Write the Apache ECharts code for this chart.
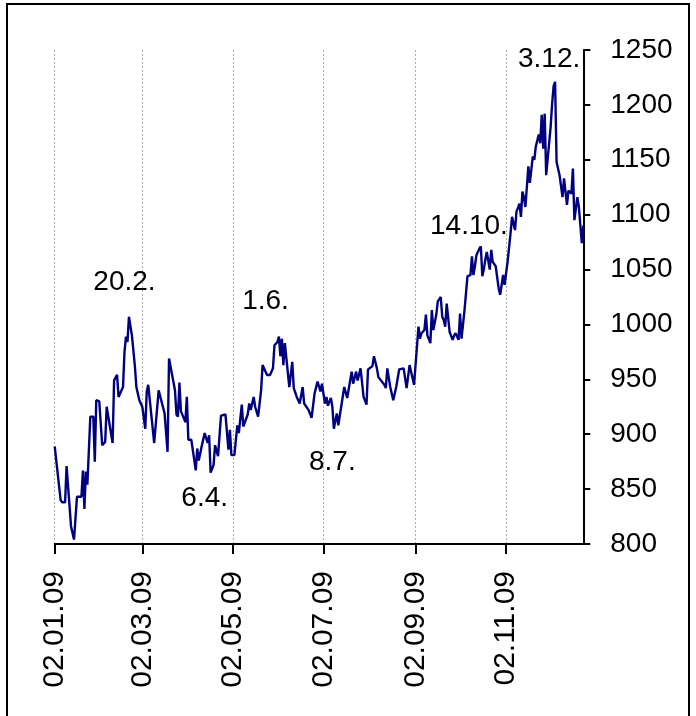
<!DOCTYPE html>
<html><head><meta charset="utf-8">
<script src="https://cdn.jsdelivr.net/npm/echarts@6/dist/echarts.min.js"></script>
<style>html,body{margin:0;padding:0;background:#fff}#c{width:696px;height:716px}</style>
</head><body><div id="c"></div>
<script>
// days since 02.01.2009 of each plotted price
const dayOffset = [0,4,5,7,8,11,12,13,15,18,19,20,21,22,24,26,27,28,30,32,34,35,39,40,42,43,46,47,48,49,50,52,54,55,57,59,61,62,63,67,70,74,76,77,81,82,83,84,85,88,89,90,92,95,96,97,99,101,103,104,105,107,108,110,112,115,117,118,119,121,123,124,126,127,130,131,132,134,135,137,139,140,143,145,147,148,150,151,152,153,154,155,158,160,161,163,165,167,168,171,173,175,177,179,180,182,183,184,186,187,188,190,191,195,197,200,201,203,204,206,208,210,211,214,215,217,218,222,223,224,226,228,230,232,235,237,239,242,245,246,247,249,250,251,253,254,255,257,258,260,261,262,263,264,266,268,269,270,272,273,274,276,278,280,281,282,283,284,286,287,288,289,290,291,293,294,295,297,299,300,302,303,305,307,308,310,311,312,313,314,315,316,317,319,320,322,323,324,326,327,328,329,330,331,334,335,336,337,338,340,342,343,345,346,348,349,350,352,353,355,356];
const price = [889,840,838,838,871,816,816,804,843,843,867,832,866,854,916,916,875,931,930,890,893,925,892,949,954,934,943,975,989,984,1007,990,962,943,931,925,905,939,945,892,940,919,884,969,940,918,916,947,921,911,934,895,895,867,887,876,889,901,892,899,865,872,890,880,917,918,886,904,881,881,908,901,927,907,918,928,922,934,925,916,940,963,954,954,960,981,984,989,971,987,963,983,943,966,942,934,928,943,928,922,915,937,948,939,946,928,934,926,933,925,905,919,908,943,933,957,946,957,949,960,934,927,959,962,971,960,952,945,942,960,943,931,943,959,960,942,963,945,998,987,992,995,1009,990,983,1013,995,1009,1021,1025,1007,1004,998,1019,993,986,990,992,986,1010,987,1013,1044,1045,1062,1045,1053,1063,1069,1071,1044,1050,1059,1066,1050,1068,1057,1053,1033,1027,1045,1036,1057,1083,1098,1086,1103,1106,1110,1098,1121,1116,1107,1144,1129,1153,1150,1162,1173,1165,1191,1160,1192,1136,1180,1201,1217,1221,1148,1136,1116,1133,1109,1122,1119,1142,1095,1116,1107,1074,1090];
const tickLabels = ['02.01.09','02.03.09','02.05.09','02.07.09','02.09.09','02.11.09'];
const annotText = ['20.2.','1.6.','6.4.','8.7.','14.10.','3.12.'];
const annotDay = [47,142,101,187,279,333];
const annotValue = [1038,1021,842,874,1089,1242];

const nDays = 357;
const start = Date.UTC(2009,0,2);
const pad = n => (n<10?'0':'')+n;
const categories = [];
for (let i=0;i<nDays;i++){
  const d = new Date(start + i*86400000);
  categories.push(pad(d.getUTCDate())+'.'+pad(d.getUTCMonth()+1)+'.'+String(d.getUTCFullYear()).slice(2));
}
const lineData = new Array(nDays).fill(null);
dayOffset.forEach((d,k)=>{ lineData[d] = price[k]; });
const annotData = annotText.map((t,k)=>({value:[annotDay[k], annotValue[k]], name:t}));
const isTick = (i, v) => tickLabels.indexOf(categories[i]) >= 0;
const FONT = 'Liberation Sans, Arial, sans-serif';

const chart = echarts.init(document.getElementById('c'), null, {renderer:'canvas'});
chart.setOption({
  animation:false,
  backgroundColor:'#fff',
  grid:{left:54.7, right:112.7, top:50, bottom:172, containLabel:false},
  xAxis:{
    type:'category', data:categories, boundaryGap:false,
    axisLine:{lineStyle:{color:'#000', width:2}},
    axisTick:{show:true, interval:isTick, length:10, lineStyle:{color:'#000', width:2}},
    axisLabel:{interval:isTick, rotate:90, margin:27, color:'#000', fontSize:30, fontFamily:FONT},
    splitLine:{show:true, interval:isTick, lineStyle:{color:'#aaa', type:[2,2], width:1}}
  },
  yAxis:{
    type:'value', position:'right', min:800, max:1250, interval:50,
    axisLine:{show:true, lineStyle:{color:'#000', width:2}},
    axisTick:{show:true, inside:false, length:7, lineStyle:{color:'#000', width:2}},
    axisLabel:{color:'#000', fontSize:28, fontFamily:FONT, margin:27, formatter:v=>String(v)},
    splitLine:{show:false}
  },
  series:[
    {type:'line', data:lineData, connectNulls:true, showSymbol:false, symbol:'none',
     lineStyle:{color:'#000080', width:2.4}, z:3},
    {type:'scatter', data:annotData, symbolSize:0.01, itemStyle:{color:'#000', opacity:1},
     emphasis:{disabled:true},
     label:{show:true, position:'inside', formatter:p=>p.name, color:'#000', opacity:1, fontSize:28, fontFamily:FONT}, z:4}
  ],
  graphic:[{type:'rect', shape:{x:7, y:4, width:682, height:730}, style:{fill:'none', stroke:'#000', lineWidth:2}, silent:true}]
});
</script></body></html>
